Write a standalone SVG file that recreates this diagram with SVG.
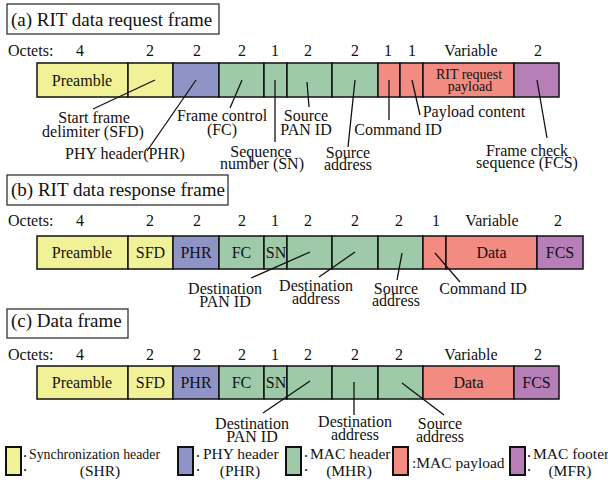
<svg xmlns="http://www.w3.org/2000/svg" width="608" height="484" viewBox="0 0 608 484">
  <style>
    text { font-family: Liberation Serif, Tinos, Times New Roman, Times, DejaVu Serif, serif; font-size: 16px; fill: #111; }
    .title { font-size: 19px; }
    .mid { text-anchor: middle; }
    .small { font-size: 14px; }
    .leg { font-size: 15.5px; }
    .tbox { fill: #fff; stroke: #333; stroke-width: 1.3; }
    .cell { stroke: #111; stroke-width: 1.5; }
    .lbox { stroke: #111; stroke-width: 2; }
    .shr { fill: #f1f197; }
    .phr { fill: #8f94c7; }
    .mhr { fill: #9ecaa9; }
    .pay { fill: #f28b82; }
    .mfr { fill: #b67fb8; }
    .lead { stroke: #111; stroke-width: 1.3; fill: none; }
  </style>

  <!-- (a) RIT data request frame -->
  <g id="frame-a">
    <rect class="tbox" x="7" y="4" width="212" height="30"/>
    <text class="title" x="11" y="26">(a) RIT data request frame</text>
    <text x="8" y="56">Octets:</text>
    <g class="mid">
      <text x="80" y="56">4</text><text x="150" y="56">2</text><text x="197" y="56">2</text>
      <text x="242" y="56">2</text><text x="275" y="56">1</text><text x="308" y="56">2</text>
      <text x="355" y="56">2</text><text x="388" y="56">1</text><text x="412" y="56">1</text>
      <text x="471" y="56">Variable</text><text x="538" y="56">2</text>
    </g>
    <g id="a-fields">
      <rect class="cell shr" x="37" y="63" width="91" height="34"/>
      <rect class="cell shr" x="128" y="63" width="45" height="34"/>
      <rect class="cell phr" x="173" y="63" width="46" height="34"/>
      <rect class="cell mhr" x="219" y="63" width="45" height="34"/>
      <rect class="cell mhr" x="264" y="63" width="23" height="34"/>
      <rect class="cell mhr" x="287" y="63" width="45" height="34"/>
      <rect class="cell mhr" x="332" y="63" width="46" height="34"/>
      <rect class="cell pay" x="378" y="63" width="22" height="34"/>
      <rect class="cell pay" x="400" y="63" width="23" height="34"/>
      <rect class="cell pay" x="423" y="63" width="91" height="34"/>
      <rect class="cell mfr" x="514" y="63" width="45" height="34"/>
      <text class="mid" x="82" y="86">Preamble</text>
      <text class="mid small" x="469" y="79">RIT request</text>
      <text class="mid small" x="470" y="91">payload</text>
    </g>
    <g class="mid">
      <text x="94" y="123">Start frame</text>
      <text x="93" y="137">delimiter (SFD)</text>
      <text x="125" y="159">PHY header(PHR)</text>
      <text x="222" y="121">Frame control</text>
      <text x="222" y="135">(FC)</text>
      <text x="261" y="157">Sequence</text>
      <text x="262" y="169">number (SN)</text>
      <text x="306" y="121">Source</text>
      <text x="306" y="135">PAN ID</text>
      <text x="348" y="158">Source</text>
      <text x="348" y="170">address</text>
      <text x="398" y="135">Command ID</text>
      <text x="474" y="117">Payload content</text>
      <text x="527" y="156">Frame check</text>
      <text x="527" y="168">sequence (FCS)</text>
    </g>
  </g>

  <!-- (b) RIT data response frame -->
  <g id="frame-b">
    <rect class="tbox" x="7" y="175" width="221" height="30"/>
    <text class="title" x="11" y="196">(b) RIT data response frame</text>
    <text x="8" y="226">Octets:</text>
    <g class="mid">
      <text x="80" y="226">4</text><text x="150" y="226">2</text><text x="197" y="226">2</text>
      <text x="242" y="226">2</text><text x="275" y="226">1</text><text x="308" y="226">2</text>
      <text x="355" y="226">2</text><text x="399" y="226">2</text><text x="436" y="226">1</text>
      <text x="492" y="226">Variable</text><text x="558" y="226">2</text>
    </g>
    <g id="b-fields">
      <rect class="cell shr" x="37" y="236" width="91" height="33"/>
      <rect class="cell shr" x="128" y="236" width="45" height="33"/>
      <rect class="cell phr" x="173" y="236" width="46" height="33"/>
      <rect class="cell mhr" x="219" y="236" width="45" height="33"/>
      <rect class="cell mhr" x="264" y="236" width="23" height="33"/>
      <rect class="cell mhr" x="287" y="236" width="45" height="33"/>
      <rect class="cell mhr" x="332" y="236" width="46" height="33"/>
      <rect class="cell mhr" x="378" y="236" width="45" height="33"/>
      <rect class="cell pay" x="423" y="236" width="23" height="33"/>
      <rect class="cell pay" x="446" y="236" width="91" height="33"/>
      <rect class="cell mfr" x="537" y="236" width="46" height="33"/>
      <g class="mid">
        <text x="82" y="258">Preamble</text>
        <text x="150.5" y="258">SFD</text>
        <text x="196" y="258">PHR</text>
        <text x="241.5" y="258">FC</text>
        <text x="276" y="258">SN</text>
        <text x="491.5" y="258">Data</text>
        <text x="560" y="258">FCS</text>
      </g>
    </g>
    <g class="mid">
      <text x="225" y="294">Destination</text>
      <text x="225" y="307">PAN ID</text>
      <text x="316" y="291">Destination</text>
      <text x="316" y="304">address</text>
      <text x="396" y="294">Source</text>
      <text x="396" y="306">address</text>
      <text x="483" y="294">Command ID</text>
    </g>
  </g>

  <!-- (c) Data frame -->
  <g id="frame-c">
    <rect class="tbox" x="7" y="309" width="121" height="29"/>
    <text class="title" x="11" y="327">(c) Data frame</text>
    <text x="8" y="360">Octets:</text>
    <g class="mid">
      <text x="80" y="360">4</text><text x="150" y="360">2</text><text x="197" y="360">2</text>
      <text x="242" y="360">2</text><text x="275" y="360">1</text><text x="308" y="360">2</text>
      <text x="355" y="360">2</text><text x="399" y="360">2</text>
      <text x="471" y="360">Variable</text><text x="538" y="360">2</text>
    </g>
    <g id="c-fields">
      <rect class="cell shr" x="37" y="366" width="91" height="33"/>
      <rect class="cell shr" x="128" y="366" width="45" height="33"/>
      <rect class="cell phr" x="173" y="366" width="46" height="33"/>
      <rect class="cell mhr" x="219" y="366" width="45" height="33"/>
      <rect class="cell mhr" x="264" y="366" width="23" height="33"/>
      <rect class="cell mhr" x="287" y="366" width="45" height="33"/>
      <rect class="cell mhr" x="332" y="366" width="46" height="33"/>
      <rect class="cell mhr" x="378" y="366" width="45" height="33"/>
      <rect class="cell pay" x="423" y="366" width="91" height="33"/>
      <rect class="cell mfr" x="514" y="366" width="45" height="33"/>
      <g class="mid">
        <text x="82" y="388">Preamble</text>
        <text x="150.5" y="388">SFD</text>
        <text x="196" y="388">PHR</text>
        <text x="241.5" y="388">FC</text>
        <text x="276" y="388">SN</text>
        <text x="468.5" y="388">Data</text>
        <text x="536.5" y="388">FCS</text>
      </g>
    </g>
    <g class="mid">
      <text x="252" y="429">Destination</text>
      <text x="252" y="442">PAN ID</text>
      <text x="355" y="427">Destination</text>
      <text x="355" y="440">address</text>
      <text x="440" y="429">Source</text>
      <text x="440" y="442">address</text>
    </g>
  </g>

  <!-- leader lines from fields to their labels -->
  <g id="connectors" class="lead">
    <line x1="155" y1="80" x2="93" y2="109"/>
    <line x1="196" y1="80" x2="147" y2="151"/>
    <line x1="242" y1="80" x2="230" y2="108"/>
    <line x1="275" y1="80" x2="275" y2="142"/>
    <line x1="307" y1="82" x2="309" y2="107"/>
    <line x1="355" y1="80" x2="348" y2="147"/>
    <line x1="389" y1="80" x2="389" y2="120"/>
    <line x1="412" y1="80" x2="420" y2="115"/>
    <line x1="537" y1="80" x2="547" y2="138"/>

    <line x1="310" y1="252" x2="251" y2="278"/>
    <line x1="355" y1="252" x2="319" y2="277"/>
    <line x1="402" y1="253" x2="397" y2="280"/>
    <line x1="435" y1="253" x2="460" y2="282"/>

    <line x1="310" y1="381" x2="263" y2="413"/>
    <line x1="354" y1="382" x2="354" y2="415"/>
    <line x1="402" y1="383" x2="444" y2="415"/>
  </g>

  <!-- colour key -->
  <g id="legend-shr">
    <rect class="lbox shr" x="6" y="447" width="15" height="28"/>
    <text x="23" y="457">.</text><text x="23" y="471">.</text>
    <text class="leg" x="29" y="459" textLength="131" lengthAdjust="spacingAndGlyphs">Synchronization header</text>
    <text class="leg mid" x="100" y="476">(SHR)</text>
  </g>
  <g id="legend-phr">
    <rect class="lbox phr" x="178" y="447" width="15" height="28"/>
    <text x="196" y="457">.</text><text x="196" y="471">.</text>
    <text class="leg" x="203" y="459">PHY header</text>
    <text class="leg mid" x="240" y="476">(PHR)</text>
  </g>
  <g id="legend-mhr">
    <rect class="lbox mhr" x="286" y="447" width="15" height="28"/>
    <text x="304" y="457">.</text><text x="304" y="471">.</text>
    <text class="leg" x="310" y="459">MAC header</text>
    <text class="leg mid" x="349" y="476">(MHR)</text>
  </g>
  <g id="legend-pay">
    <rect class="lbox pay" x="393" y="447" width="15" height="28"/>
    <text class="leg" x="412" y="468">:MAC payload</text>
  </g>
  <g id="legend-mfr">
    <rect class="lbox mfr" x="510" y="447" width="15" height="28"/>
    <text x="527" y="457">.</text><text x="527" y="471">.</text>
    <text class="leg" x="533" y="459">MAC footer</text>
    <text class="leg mid" x="570" y="476">(MFR)</text>
  </g>
</svg>
